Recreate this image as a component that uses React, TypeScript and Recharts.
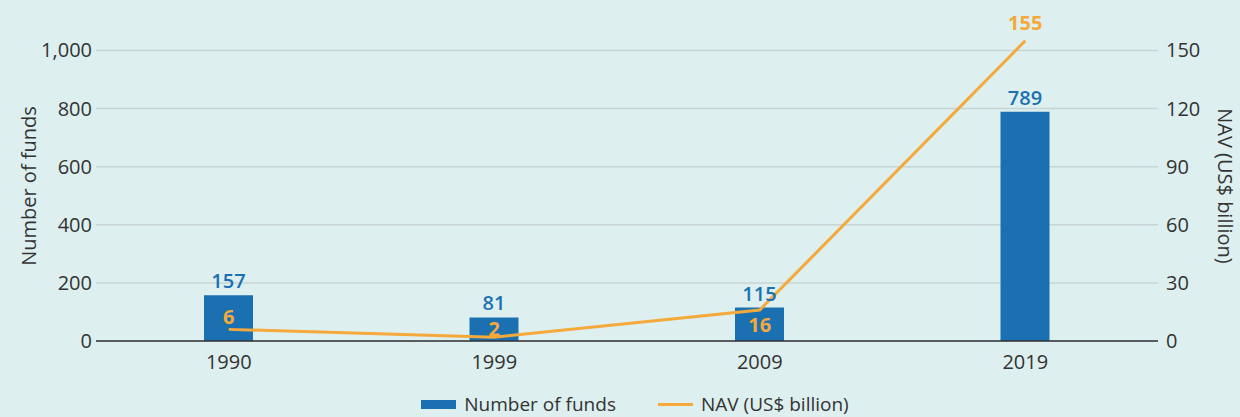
import { ComposedChart, Bar, Line, XAxis, YAxis, CartesianGrid, Legend, LabelList } from "recharts";

const years = ["1990", "1999", "2009", "2019"];
const fundCounts = [157, 81, 115, 789];
const navBillions = [6, 2, 16, 155];
const fundTicks = [0, 200, 400, 600, 800, 1000];
const navTicks = [0, 30, 60, 90, 120, 150];

const data = years.map((year, i) => ({ year, funds: fundCounts[i], nav: navBillions[i] }));

const BLUE = "#1a70b0";
const ORANGE = "#f5a93b";
const TEXT = "#333333";
const FONT = "'Open Sans', 'Noto Sans', sans-serif";

// both axes get headroom above the last tick so the 155 point fits
const NAV_MAX = 160;
const FUNDS_MAX = (NAV_MAX / 150) * 1000;

// NAV labels: above the line, except 2009 which sits under it
const labelShift = [-5, -1, 22, -11];

const NavLabel = (props: any) => {
  const { x, y, value, index } = props;
  return (
    <text
      x={x}
      y={y + labelShift[index]}
      textAnchor="middle"
      fill={ORANGE}
      fontSize={20}
      fontWeight={700}
      fontFamily={FONT}
    >
      {value}
    </text>
  );
};

const LegendContent = () => (
  <div
    style={{
      display: "flex",
      justifyContent: "center",
      alignItems: "center",
      gap: 42,
      fontFamily: FONT,
      fontSize: 19,
      color: TEXT,
      paddingLeft: 30,
      height: 26,
    }}
  >
    <div style={{ display: "flex", alignItems: "center", gap: 8 }}>
      <div style={{ width: 35, height: 9, background: BLUE }} />
      <span>Number of funds</span>
    </div>
    <div style={{ display: "flex", alignItems: "center", gap: 8 }}>
      <div style={{ width: 35, height: 3, background: ORANGE }} />
      <span>NAV (US$ billion)</span>
    </div>
  </div>
);

export default function App() {
  return (
    <div style={{ position: "absolute", left: 0, top: 0, width: 1240, height: 417, background: "#ddf0ef" }}>
      <ComposedChart
        width={1240}
        height={417}
        data={data}
        margin={{ top: 31, right: 0, bottom: 0, left: 0 }}
        barCategoryGap={0}
      >
        <CartesianGrid
          vertical={false}
          stroke="#c8d4d4"
          strokeWidth={1.5}
          yAxisId="left"
          syncWithTicks
        />
        <XAxis
          dataKey="year"
          height={50}
          axisLine={{ stroke: TEXT, strokeWidth: 1.5 }}
          tickLine={false}
          tick={{ fill: TEXT, fontSize: 20, fontFamily: FONT }}
          tickMargin={8}
        />
        <YAxis
          yAxisId="left"
          width={96}
          domain={[0, FUNDS_MAX]}
          ticks={fundTicks}
          tickFormatter={(v: number) => v.toLocaleString("en-US")}
          axisLine={false}
          tickLine={false}
          tickSize={0}
          tick={{ fill: TEXT, fontSize: 20, fontFamily: FONT }}
          tickMargin={4}
          label={{
            value: "Number of funds",
            angle: -90,
            position: "insideLeft",
            dx: 24,
            dy: 0,
            style: { textAnchor: "middle", fill: TEXT, fontSize: 20, fontFamily: FONT },
          }}
        />
        <YAxis
          yAxisId="right"
          orientation="right"
          width={82}
          domain={[0, NAV_MAX]}
          ticks={navTicks}
          axisLine={false}
          tickLine={false}
          tickSize={0}
          tick={{ fill: TEXT, fontSize: 20, fontFamily: FONT }}
          tickMargin={8}
          label={{
            value: "NAV (US$ billion)",
            angle: 90,
            position: "insideRight",
            dx: -10,
            dy: 0,
            style: { textAnchor: "middle", fill: TEXT, fontSize: 20, fontFamily: FONT },
          }}
        />
        <Legend verticalAlign="bottom" content={LegendContent} />
        <Bar yAxisId="left" dataKey="funds" name="Number of funds" fill={BLUE} barSize={49} isAnimationActive={false}>
          <LabelList
            dataKey="funds"
            position="top"
            offset={7}
            fill={BLUE}
            fontSize={20}
            fontWeight={600}
            fontFamily={FONT}
          />
        </Bar>
        <Line
          yAxisId="right"
          type="linear"
          dataKey="nav"
          name="NAV (US$ billion)"
          stroke={ORANGE}
          strokeWidth={3}
          dot={false}
          activeDot={false}
          isAnimationActive={false}
        >
          <LabelList dataKey="nav" content={NavLabel} />
        </Line>
      </ComposedChart>
    </div>
  );
}
